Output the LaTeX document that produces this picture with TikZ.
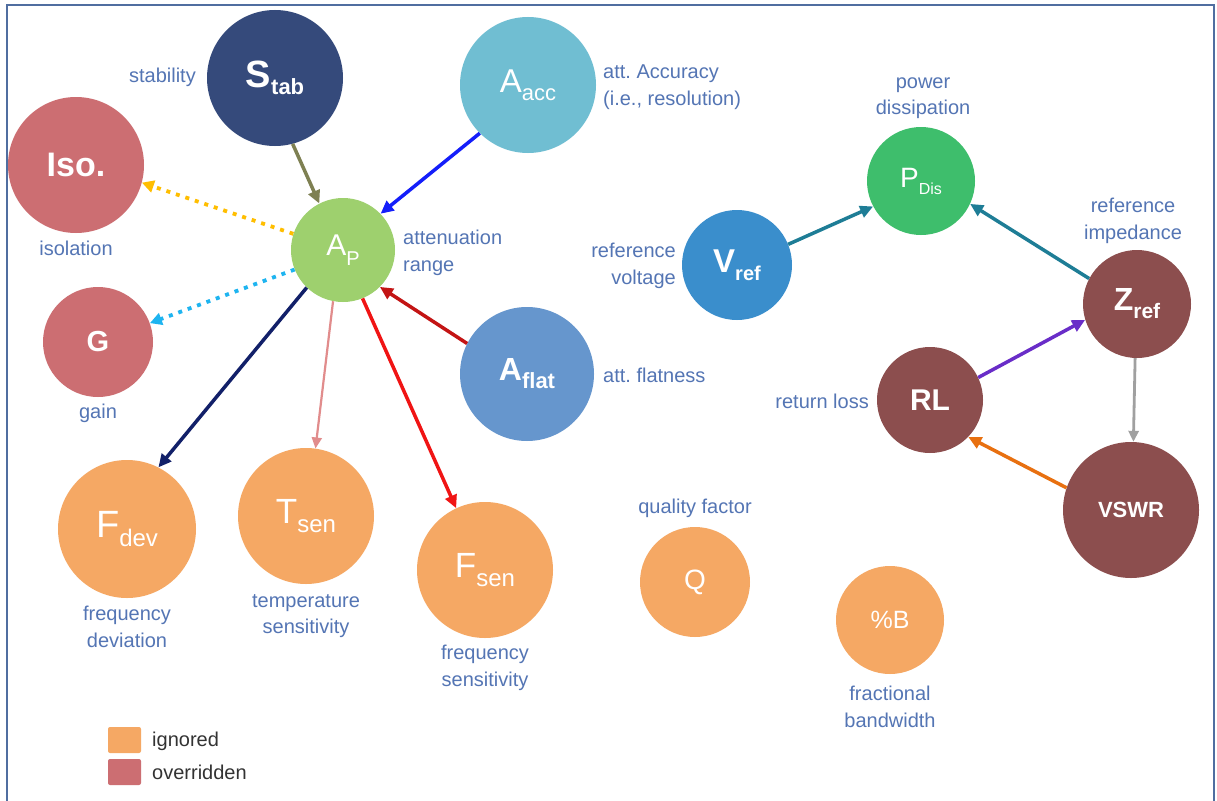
\documentclass[tikz,border=0pt]{standalone}
\usepackage{fontspec}
\setmainfont{Liberation Sans}
\usetikzlibrary{arrows.meta}

% palette
\definecolor{stabc}{RGB}{53,74,123}
\definecolor{overc}{RGB}{204,110,114}
\definecolor{accc}{RGB}{112,190,210}
\definecolor{apc}{RGB}{158,208,110}
\definecolor{flatc}{RGB}{102,150,205}
\definecolor{ignc}{RGB}{245,168,100}
\definecolor{vrefc}{RGB}{58,142,204}
\definecolor{pdisc}{RGB}{62,190,108}
\definecolor{brownc}{RGB}{140,78,78}
\definecolor{labc}{RGB}{84,117,180}
\definecolor{framec}{RGB}{80,110,160}
\definecolor{olivec}{RGB}{126,128,82}
\definecolor{bluec}{RGB}{20,30,250}
\definecolor{navyc}{RGB}{18,32,105}
\definecolor{pinkc}{RGB}{225,140,140}
\definecolor{redc}{RGB}{240,20,20}
\definecolor{dredc}{RGB}{195,20,20}
\definecolor{yelc}{RGB}{255,190,0}
\definecolor{skyc}{RGB}{30,180,240}
\definecolor{tealc}{RGB}{30,125,150}
\definecolor{purpc}{RGB}{105,45,200}
\definecolor{grayc}{RGB}{160,160,160}
\definecolor{orac}{RGB}{232,112,16}

% symbol with subscript: main size, sub size, main text, sub text, drop
\newcommand{\fsz}[2]{{\fontsize{#1}{#1}\selectfont #2}}
\newcommand{\symsub}[5]{\fsz{#1}{#3}\raisebox{-#5pt}{\fsz{#2}{#4}}}

\tikzset{
  bubble/.style={circle, inner sep=0pt, text=white, minimum size=#1},
  lab/.style={text=labc, font=\fontsize{20}{26.5}\selectfont, inner sep=0pt},
  conn/.style={line width=3.5pt, -{Triangle[length=13pt,width=12pt]}},
  thinconn/.style={line width=2.2pt, -{Triangle[length=11pt,width=10pt]}},
  dotconn/.style={line width=3.8pt, dash pattern=on 4pt off 6pt,
    -{Triangle[length=12pt,width=12pt]}},
  keybox/.style={rounded corners=2pt, minimum width=33pt, minimum height=26pt, inner sep=0pt}
}

\begin{document}
\begin{tikzpicture}[x=1pt,y=-1pt]
\useasboundingbox (0,0) rectangle (1217,800);
\clip (0,0) rectangle (1217,800);
\fill[white] (0,0) rectangle (1217,800);
\draw[framec, line width=1.5pt] (7,5) rectangle (1214,830);

% attenuation cluster
\node[bubble=136pt, fill=stabc, font=\bfseries] (stab) at (275,78) {\symsub{38}{22}{S}{tab}{7}};
\node[bubble=136pt, fill=overc, font=\bfseries] (iso) at (76,165) {\fsz{34}{Iso.}};
\node[bubble=136pt, fill=accc] (aacc) at (528,85) {\symsub{33}{22}{A}{acc}{8}};
\node[bubble=104pt, fill=apc] (ap) at (343,250) {\symsub{30}{20}{A}{P}{10}};
\node[bubble=110pt, fill=overc, font=\bfseries] (g) at (98,342) {\fsz{29}{G}};
\node[bubble=134pt, fill=flatc, font=\bfseries] (aflat) at (527,374) {\symsub{32}{22}{A}{flat}{8}};
\node[bubble=138pt, fill=ignc] (fdev) at (127,529) {\symsub{38}{24}{F}{dev}{9}};
\node[bubble=136pt, fill=ignc] (tsen) at (306,516) {\symsub{35}{24}{T}{sen}{9}};
\node[bubble=136pt, fill=ignc] (fsen) at (485,570) {\symsub{35}{24}{F}{sen}{9}};
\node[bubble=110pt, fill=ignc] (q) at (695,582) {\fsz{28}{Q}};
\node[bubble=108pt, fill=ignc] (pb) at (890,620) {\fsz{25}{\%B}};

% reference cluster
\node[bubble=110pt, fill=vrefc, font=\bfseries] (vref) at (737,265) {\symsub{33}{20}{V}{ref}{8}};
\node[bubble=108pt, fill=pdisc] (pdis) at (921,181) {\symsub{28}{16}{P}{Dis}{7}};
\node[bubble=108pt, fill=brownc, font=\bfseries] (zref) at (1137,304) {\symsub{32}{21}{Z}{ref}{8}};
\node[bubble=106pt, fill=brownc, font=\bfseries] (rl) at (930,400) {\fsz{30}{RL}};
\node[bubble=136pt, fill=brownc, font=\bfseries] (vswr) at (1131,510) {\fsz{22}{VSWR}};

% descriptions
\node[lab, anchor=east] (lstab) at (196,77) {stability};
\node[lab] (liso) at (76,248) {isolation};
\node[lab, anchor=west, align=left] (lacc) at (603,87) {att.\ Accuracy\\(i.e., resolution)};
\node[lab, anchor=west, align=left] (lap) at (403,253) {attenuation\\range};
\node[lab, anchor=east, align=right] (lvref) at (676,266) {reference\\voltage};
\node[lab, align=center] (lpdis) at (923,98) {power\\dissipation};
\node[lab, align=center] (lzref) at (1133,221) {reference\\impedance};
\node[lab, anchor=west] (lflat) at (603,375) {att.\ flatness};
\node[lab, anchor=east] (lrl) at (869,401) {return loss};
\node[lab] (lg) at (98,413) {gain};
\node[lab, align=center] (lfdev) at (127,627) {frequency\\deviation};
\node[lab, align=center] (ltsen) at (306,616) {temperature\\sensitivity};
\node[lab, align=center] (lfsen) at (485,668) {frequency\\sensitivity};
\node[lab] (lq) at (695,508) {quality factor};
\node[lab, align=center] (lpb) at (890,707) {fractional\\bandwidth};

% key
\node[keybox, fill=ignc] (kign) at (124.5,740) {};
\node[keybox, fill=overc] (kover) at (124.5,772) {};
\node[lab, anchor=west, text=black!80] (tign) at (152,741) {ignored};
\node[lab, anchor=west, text=black!80] (tover) at (152,772) {overridden};

% dependencies around the attenuation range
\draw[conn, olivec] (stab.-75) -- (ap.117);
\draw[conn, bluec] (aacc.-135) -- (ap.44);
\draw[dotconn, yelc] (ap.162) -- (iso.-15);
\draw[dotconn, skyc] (ap.202) -- (g.20);
\draw[conn, navyc] (ap.226) -- (fdev.63);
\draw[thinconn, pinkc] (ap.-101) -- (tsen.82);
\draw[conn, redc] (ap.-68) -- (fsen.115);
\draw[conn, dredc] (aflat.153) -- (ap.-45);

% dependencies around the reference impedance
\draw[conn, tealc] (vref.22) -- (pdis.208);
\draw[conn, tealc] (zref.152) -- (pdis.-25);
\draw[conn, purpc] (rl.25) -- (zref.197);
\draw[thinconn, grayc, line width=2.8pt] (zref.-92) -- (vswr.88);
\draw[conn, orac] (vswr.161) -- (rl.-44);
\end{tikzpicture}
\end{document}
